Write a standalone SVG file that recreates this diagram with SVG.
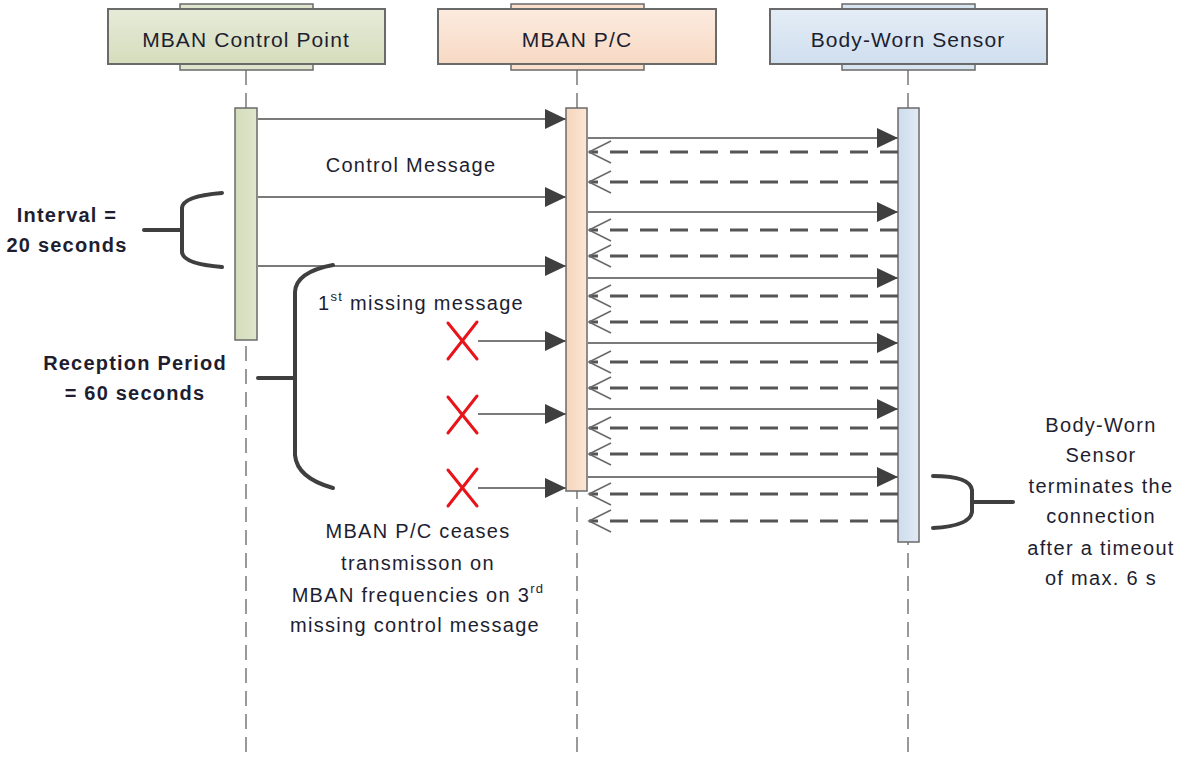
<svg xmlns="http://www.w3.org/2000/svg" width="1193" height="760" viewBox="0 0 1193 760">
<defs>
<linearGradient id="gGreen" x1="0" y1="0" x2="0" y2="1"><stop offset="0" stop-color="#e6ebd8"/><stop offset="1" stop-color="#d5ddbd"/></linearGradient>
<linearGradient id="gPeach" x1="0" y1="0" x2="0" y2="1"><stop offset="0" stop-color="#fcebdf"/><stop offset="1" stop-color="#f7d9c3"/></linearGradient>
<linearGradient id="gBlue" x1="0" y1="0" x2="0" y2="1"><stop offset="0" stop-color="#e4edf6"/><stop offset="1" stop-color="#cfdeee"/></linearGradient>
<linearGradient id="bGreen" x1="0" y1="0" x2="1" y2="0"><stop offset="0" stop-color="#d3dcba"/><stop offset="1" stop-color="#dfe6cc"/></linearGradient>
<linearGradient id="bPeach" x1="0" y1="0" x2="1" y2="0"><stop offset="0" stop-color="#f6d5bb"/><stop offset="1" stop-color="#fbe6d7"/></linearGradient>
<linearGradient id="bBlue" x1="0" y1="0" x2="1" y2="0"><stop offset="0" stop-color="#cddcec"/><stop offset="1" stop-color="#e1ebf5"/></linearGradient>
<marker id="filled" markerUnits="userSpaceOnUse" markerWidth="22" markerHeight="22" refX="21" refY="10" orient="auto" overflow="visible">
<path d="M0,0 L21,10 L0,20 Z" fill="#3f3f3f"/>
</marker>
<marker id="open" markerUnits="userSpaceOnUse" markerWidth="24" markerHeight="24" refX="22" refY="11" orient="auto" overflow="visible">
<path d="M0,0 L22,11 L0,22" fill="none" stroke="#6a6a6a" stroke-width="1.6"/>
</marker>
</defs>
<style>
.hdr{stroke:#6a6a6a;stroke-width:2}
.tab{stroke:#6a6a6a;stroke-width:1.5}
.life{stroke:#999;stroke-width:2;stroke-dasharray:15 8;fill:none}
.bar{stroke:#6a6a6a;stroke-width:1.5}
.msg{stroke:#7a7a7a;stroke-width:2;fill:none;marker-end:url(#filled)}
.ret{stroke:#555;stroke-width:3;stroke-dasharray:18 12;fill:none;marker-end:url(#open)}
.brk{stroke:#3f3f3f;stroke-width:4;fill:none;stroke-linecap:round}
.xm{stroke:#e8141c;stroke-width:3;stroke-linecap:round}
text{font-family:"Liberation Sans",Arial,sans-serif;fill:#1e1e30}
.t{font-size:20px;letter-spacing:1.3px}
.h{font-size:21px;letter-spacing:1.1px;text-anchor:middle}
.b{font-size:20px;font-weight:bold;letter-spacing:1.2px;text-anchor:middle}
.c{text-anchor:middle}
</style>

<g id="lifelines">
<line class="life" x1="246" y1="70" x2="246" y2="760"/>
<line class="life" x1="577" y1="70" x2="577" y2="760"/>
<line class="life" x1="908" y1="70" x2="908" y2="760"/>
</g>

<g id="node-control-point">
<rect class="tab" x="180" y="4" width="133" height="66" fill="#dfe5cc"/>
<rect class="hdr" x="108" y="9" width="277" height="55" fill="url(#gGreen)"/>
<text class="h" x="246" y="47">MBAN Control Point</text>
<rect class="bar" x="235" y="108" width="22" height="232" fill="url(#bGreen)"/>
</g>

<g id="node-pc">
<rect class="tab" x="511" y="4" width="133" height="66" fill="#f9dfcc"/>
<rect class="hdr" x="438" y="9" width="278" height="55" fill="url(#gPeach)"/>
<text class="h" x="577" y="47">MBAN P/C</text>
<rect class="bar" x="566" y="108" width="21" height="383" fill="url(#bPeach)"/>
</g>

<g id="node-sensor">
<rect class="tab" x="842" y="4" width="133" height="66" fill="#d8e5f1"/>
<rect class="hdr" x="770" y="9" width="277" height="55" fill="url(#gBlue)"/>
<text class="h" x="908" y="47">Body-Worn Sensor</text>
<rect class="bar" x="898" y="108" width="21" height="434" fill="url(#bBlue)"/>
</g>

<g id="connectors">
<line class="msg" x1="258" y1="119" x2="566" y2="119"/>
<line class="msg" x1="258" y1="197" x2="566" y2="197"/>
<line class="msg" x1="258" y1="266" x2="566" y2="266"/>
<line class="msg" x1="478" y1="341" x2="566" y2="341"/>
<line class="msg" x1="478" y1="414" x2="566" y2="414"/>
<line class="msg" x1="478" y1="488" x2="566" y2="488"/>

<line class="msg" x1="588" y1="138" x2="898" y2="138"/>
<line class="msg" x1="588" y1="212" x2="898" y2="212"/>
<line class="msg" x1="588" y1="278" x2="898" y2="278"/>
<line class="msg" x1="588" y1="343" x2="898" y2="343"/>
<line class="msg" x1="588" y1="409" x2="898" y2="409"/>
<line class="msg" x1="588" y1="477" x2="898" y2="477"/>

<line class="ret" x1="898" y1="152" x2="589" y2="152"/>
<line class="ret" x1="898" y1="182" x2="589" y2="182"/>
<line class="ret" x1="898" y1="230" x2="589" y2="230"/>
<line class="ret" x1="898" y1="256" x2="589" y2="256"/>
<line class="ret" x1="898" y1="296" x2="589" y2="296"/>
<line class="ret" x1="898" y1="322" x2="589" y2="322"/>
<line class="ret" x1="898" y1="362" x2="589" y2="362"/>
<line class="ret" x1="898" y1="388" x2="589" y2="388"/>
<line class="ret" x1="898" y1="428" x2="589" y2="428"/>
<line class="ret" x1="898" y1="454" x2="589" y2="454"/>
<line class="ret" x1="898" y1="494" x2="589" y2="494"/>
<line class="ret" x1="898" y1="521" x2="589" y2="521"/>
</g>

<g id="x-marks">
<line class="xm" x1="448" y1="323" x2="477" y2="359"/>
<line class="xm" x1="477" y1="322" x2="448" y2="359"/>
<line class="xm" x1="448" y1="397" x2="477" y2="433"/>
<line class="xm" x1="477" y1="396" x2="448" y2="433"/>
<line class="xm" x1="448" y1="470" x2="477" y2="506"/>
<line class="xm" x1="477" y1="469" x2="448" y2="506"/>
</g>

<g id="brackets">
<path class="brk" d="M222,193 Q183,196 182,208 L182,252 Q183,264 222,267"/>
<path class="brk" d="M144,230 H182"/>
<path class="brk" d="M333,265 Q296,272 295,292 L295,455 Q297,478 333,488"/>
<path class="brk" d="M258,378 H295"/>
<path class="brk" d="M933,476 Q970,476 972,490 L972,512 Q970,526 933,528"/>
<path class="brk" d="M972,502 H1013"/>
</g>

<g id="labels">
<text class="t c" x="411" y="172">Control Message</text>
<text class="t" x="318" y="310">1<tspan font-size="13" dy="-9">st</tspan><tspan dy="9"> missing message</tspan></text>
<text class="b" x="67" y="222">Interval =</text>
<text class="b" x="67" y="252">20 seconds</text>
<text class="b" x="135" y="370">Reception Period</text>
<text class="b" x="135" y="400">= 60 seconds</text>
<text class="t c" x="418" y="538">MBAN P/C ceases</text>
<text class="t c" x="418" y="570">transmisson on</text>
<text class="t c" x="418" y="602">MBAN frequencies on 3<tspan font-size="13" dy="-9">rd</tspan></text>
<text class="t c" x="415" y="632">missing control message</text>
<text class="t c" x="1101" y="432">Body-Worn</text>
<text class="t c" x="1101" y="462">Sensor</text>
<text class="t c" x="1101" y="493">terminates the</text>
<text class="t c" x="1101" y="523">connection</text>
<text class="t c" x="1101" y="555">after a timeout</text>
<text class="t c" x="1101" y="585">of max. 6 s</text>
</g>
</svg>
